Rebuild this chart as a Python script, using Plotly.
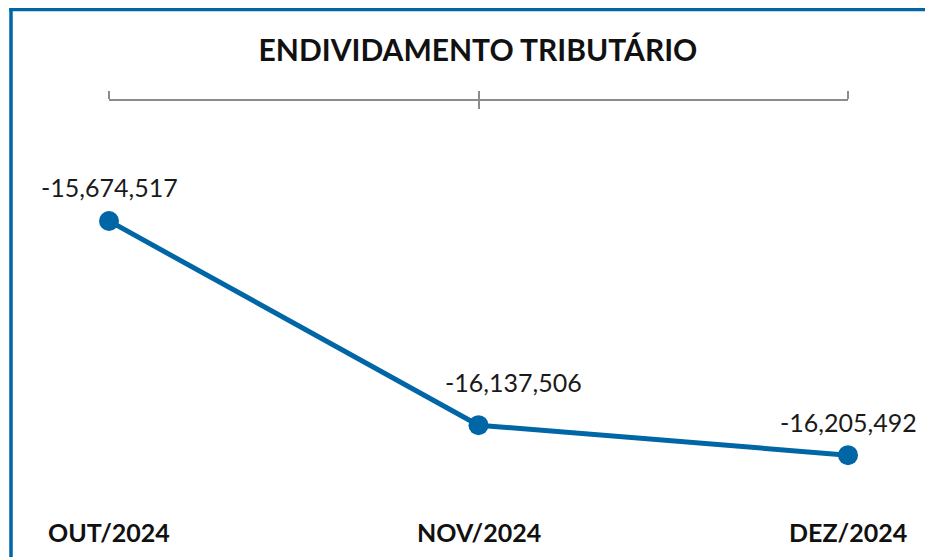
import plotly.graph_objects as go

categories = ["OUT/2024", "NOV/2024", "DEZ/2024"]
values = [-15674517, -16137506, -16205492]
title_text = "ENDIVIDAMENTO TRIBUTÁRIO"

BLUE = "#0066A6"
SW, SH = 933, 557          # screen size
OFF = 8                    # page body margin offset
W, H = SW - OFF, SH - OFF  # figure size so it ends at the window edge
L = 109 - OFF
T = 101 - OFF
R = W - (848 - OFF)
B = H - (500 - OFF)

fig = go.Figure()
fig.add_trace(go.Scatter(
    x=categories, y=values, mode="lines+markers",
    line=dict(color=BLUE, width=5),
    marker=dict(color=BLUE, size=20),
    cliponaxis=False,
    hoverinfo="skip", showlegend=False,
))
fig.add_trace(go.Scatter(x=categories, y=values, xaxis="x2", mode="none",
                         showlegend=False, hoverinfo="skip"))

label_yshift = [34, 43, 33]
label_xshift = [0, 35, 0]
for c, v, ys, xs in zip(categories, values, label_yshift, label_xshift):
    fig.add_annotation(x=c, y=v, text=f"{v:,}", showarrow=False, yshift=ys, xshift=xs,
                       font=dict(family="Lato", size=25, color="#1a1a1a"))

for c in categories:
    fig.add_annotation(x=c, y=0, yref="paper", yanchor="middle",
                       yshift=-(532 - 500),
                       text=f"<b>{c}</b>", showarrow=False,
                       font=dict(family="Lato", size=25, color="#111111"))

pw = W - L - R
ph = H - T - B
def px_x(p):
    return (p - OFF - L) / pw
def px_y(p):
    return (H - B - (p - OFF)) / ph

fig.add_shape(type="line", xref="paper", yref="paper",
              x0=px_x(11), x1=px_x(11), y0=px_y(8), y1=px_y(SH + 20),
              line=dict(color=BLUE, width=3.5))
fig.add_shape(type="line", xref="paper", yref="paper",
              x0=px_x(9.3), x1=px_x(SW + 20), y0=px_y(9.5), y1=px_y(9.5),
              line=dict(color=BLUE, width=3.5))

axis_common = dict(
    type="category", range=[0, 2], showgrid=False, zeroline=False,
    showline=True, linecolor="#8c8c8c", linewidth=1.5,
    tickcolor="#8c8c8c", tickwidth=1.5, ticklen=8,
    showticklabels=False, side="top", fixedrange=True,
)
fig.update_layout(
    width=W, height=H,
    margin=dict(l=L, r=R, t=T, b=B, pad=0),
    paper_bgcolor="white", plot_bgcolor="white",
    title=dict(text=f"<b>{title_text}</b>", x=(478 - OFF) / W, xanchor="center",
               y=1 - (50 - OFF) / H, yanchor="middle",
               font=dict(family="Lato", size=30, color="#111111")),
    xaxis=dict(ticks="outside", **axis_common),
    xaxis2=dict(ticks="inside", overlaying="x", **axis_common),
    yaxis=dict(range=[-16307170, -15402408], visible=False, fixedrange=True),
)

fig.write_html("out.html")
